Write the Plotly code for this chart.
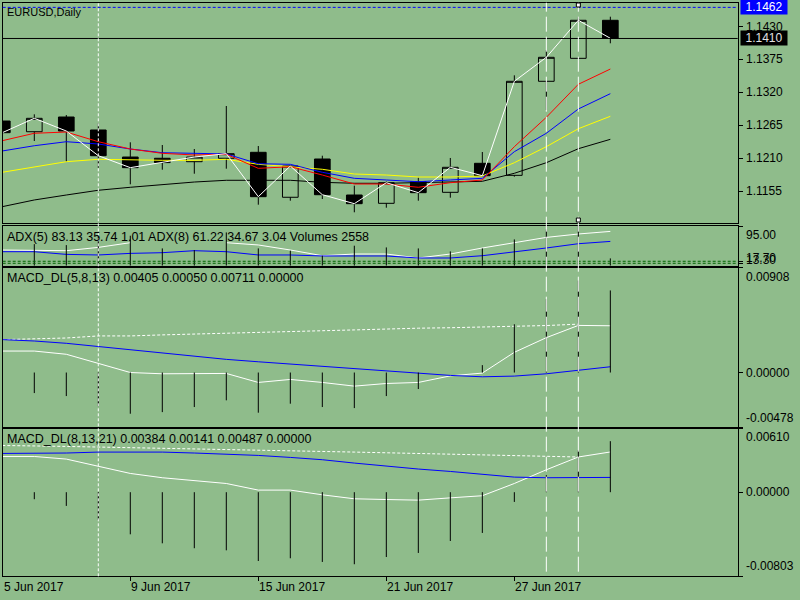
import plotly.graph_objects as go

BG = "#8FBC8B"
FONT = "Liberation Sans"

# ---------------- data ----------------
dates = ["5 Jun 2017", "6 Jun 2017", "7 Jun 2017", "8 Jun 2017", "9 Jun 2017",
         "12 Jun 2017", "13 Jun 2017", "14 Jun 2017", "15 Jun 2017", "16 Jun 2017",
         "19 Jun 2017", "20 Jun 2017", "21 Jun 2017", "22 Jun 2017", "23 Jun 2017",
         "26 Jun 2017", "27 Jun 2017", "28 Jun 2017", "29 Jun 2017", "30 Jun 2017"]
date_ticks = ["5 Jun 2017", "9 Jun 2017", "15 Jun 2017", "21 Jun 2017", "27 Jun 2017"]
separator_day = "8 Jun 2017"
marked_days = ["28 Jun 2017", "29 Jun 2017"]

open_ = [1.12720, 1.12541, 1.12787, 1.12570, 1.12118, 1.12097, 1.12040, 1.12097, 1.12197, 1.11445,
         1.12085, 1.11483, 1.11344, 1.11705, 1.11528, 1.12013, 1.11812, 1.13384, 1.13768, 1.14404]
high = [1.12800, 1.12832, 1.12820, 1.12682, 1.12364, 1.12319, 1.12252, 1.12971, 1.12302, 1.11985,
        1.12140, 1.11639, 1.11709, 1.11772, 1.12102, 1.12202, 1.13484, 1.13907, 1.14454, 1.14464]
low = [1.12400, 1.12386, 1.12040, 1.11940, 1.11662, 1.11906, 1.11839, 1.11923, 1.11321, 1.11388,
       1.11416, 1.11194, 1.11271, 1.11388, 1.11438, 1.11792, 1.11789, 1.12904, 1.13760, 1.14019]
close = [1.12525, 1.12765, 1.12553, 1.12140, 1.11940, 1.12025, 1.12118, 1.12174, 1.11455, 1.11968,
         1.11488, 1.11338, 1.11689, 1.11522, 1.11946, 1.11806, 1.13384, 1.13785, 1.14404, 1.14103]

ma_red = [1.12391, 1.12515, 1.12536, 1.12374, 1.12252, 1.12180, 1.12152, 1.12164, 1.11929, 1.11956,
          1.11817, 1.11667, 1.11667, 1.11612, 1.11689, 1.11734, 1.12291, 1.12782, 1.13334, 1.13589]
ma_blue = [1.12219, 1.12307, 1.12374, 1.12336, 1.12252, 1.12190, 1.12180, 1.12169, 1.12006, 1.11996,
           1.11863, 1.11762, 1.11734, 1.11705, 1.11734, 1.11762, 1.12207, 1.12515, 1.12921, 1.13177]
ma_yellow = [1.11863, 1.11956, 1.12040, 1.12080, 1.12068, 1.12063, 1.12063, 1.12080, 1.11996, 1.11956,
             1.11913, 1.11834, 1.11817, 1.11784, 1.11784, 1.11801, 1.12023, 1.12291, 1.12591, 1.12799]
ma_black = [1.11288, 1.11400, 1.11483, 1.11562, 1.11612, 1.11662, 1.11700, 1.11729, 1.11729, 1.11729,
            1.11695, 1.11679, 1.11679, 1.11689, 1.11700, 1.11712, 1.11846, 1.12023, 1.12257, 1.12414]

price_ticks = [1.1155, 1.1210, 1.1265, 1.1320, 1.1375, 1.1430]
ask_level = 1.1462
bid_level = 1.1410

adx5 = [42.4, 42.4, 40.9, 48.1, 58.4, None, None, 58.4, 53.4, 42.4,
        29.9, 33.6, 33.6, 24.9, 33.6, 46.8, 57.8, 70.0, 77.5, 83.13]
adx8 = [38.7, 38.7, 32.8, 31.5, 35.0, 36.5, 40.9, 38.7, 31.5, 31.5,
        29.3, 29.3, 29.3, 24.9, 24.9, 29.9, 38.0, 46.8, 56.2, 61.22]
volumes = [4500, 7560, 7210, 10500, 10500, 6055, 5460, 11655, 6055, 5250,
           3500, 7000, 6405, 6055, 5005, 6055, 9205, 12705, 15000, 2558]
adx_levels = [17.7, 13.3]
adx_top = 95.0

m1_main = [0.00186, 0.00186, 0.00158, 0.00079, 0.00000, -0.00011, -0.00011, -0.00008, -0.00086, -0.00060,
           -0.00086, -0.00118, -0.00095, -0.00086, -0.00029, -0.00005, 0.00175, 0.00302, 0.00408, 0.00405]
m1_signal = [0.00285, 0.00273, 0.00253, 0.00224, 0.00195, 0.00166, 0.00137, 0.00114, 0.00093, 0.00073,
             0.00050, 0.00030, 0.00010, -0.00008, -0.00025, -0.00037, -0.00031, -0.00011, 0.00018, 0.00050]
m1_hist = [-0.00150, -0.00178, -0.00204, -0.00293, -0.00357, -0.00343, -0.00299, -0.00241, -0.00348, -0.00270,
           -0.00299, -0.00308, -0.00204, -0.00143, 0.00000, 0.00064, 0.00418, 0.00636, 0.00797, 0.00711]
m1_dash = [0.00285, 0.00291, 0.00299, 0.00317, 0.00317, 0.00326, 0.00332, 0.00339, 0.00349, 0.00354,
           0.00362, 0.00369, 0.00378, 0.00384, 0.00388, 0.00393, 0.00398, 0.00407, 0.00419, None]
m1_range = [-0.00478, 0.00908]

m2_main = [0.00341, 0.00341, 0.00316, 0.00250, 0.00179, 0.00138, 0.00112, 0.00083, 0.00020, 0.00020,
           -0.00025, -0.00063, -0.00070, -0.00076, -0.00054, -0.00034, 0.00083, 0.00214, 0.00336, 0.00384]
m2_signal = [0.00370, 0.00370, 0.00374, 0.00383, 0.00383, 0.00383, 0.00374, 0.00364, 0.00351, 0.00332,
             0.00310, 0.00278, 0.00246, 0.00221, 0.00198, 0.00169, 0.00144, 0.00138, 0.00141, 0.00141]
m2_hist = [-0.00030, -0.00067, -0.00131, -0.00268, -0.00402, -0.00488, -0.00535, -0.00555, -0.00657, -0.00631,
           -0.00666, -0.00688, -0.00619, -0.00580, -0.00466, -0.00389, -0.00093, 0.00163, 0.00402, 0.00487]
m2_dash = [0.00446, 0.00444, 0.00437, 0.00431, 0.00424, 0.00418, 0.00412, 0.00405, 0.00402, 0.00396,
           0.00389, 0.00383, 0.00377, 0.00367, 0.00364, 0.00360, 0.00355, 0.00345, 0.00336, None]
m2_range = [-0.00803, 0.00610]

# ---------------- layout geometry ----------------
W, H = 800, 600
X_DOM = [2.7 / W, 737.7 / W]
X_RANGE = [0.0125, 22.98]
PRICE_RANGE = [1.1101, 1.14698]
ADX_RANGE = [8.0, 95.0]
VOL_RANGE = [0, 13900]


def dom(top_px, bot_px):
    return [1 - bot_px / H, 1 - top_px / H]


def x_paper(i):
    return X_DOM[0] + (i - X_RANGE[0]) / (X_RANGE[1] - X_RANGE[0]) * (X_DOM[1] - X_DOM[0])


D_MAIN = dom(2.7, 223.3)
D_ADX = dom(226.0, 265.7)
D_M1 = dom(267.7, 427.7)
D_M2 = dom(428.3, 576.3)

xs = list(range(len(dates)))


def stems(vals):
    sx, sy = [], []
    for x, v in zip(xs, vals):
        sx += [x, x, None]
        sy += [0, v, None]
    return sx, sy


def line(y, color, xa, ya, dash=None, width=1):
    return go.Scatter(x=xs, y=y, mode="lines", xaxis=xa, yaxis=ya,
                      line=dict(color=color, width=width, dash=dash),
                      connectgaps=False, showlegend=False, hoverinfo="skip")


fig = go.Figure()

# main price panel
fig.add_trace(go.Candlestick(
    x=xs, open=open_, high=high, low=low, close=close, xaxis="x", yaxis="y",
    increasing=dict(line=dict(color="black", width=1), fillcolor="rgba(0,0,0,0)"),
    decreasing=dict(line=dict(color="black", width=1), fillcolor="black"),
    whiskerwidth=0, showlegend=False, hoverinfo="skip"))
fig.add_trace(line(ma_black, "black", "x", "y"))
fig.add_trace(line(ma_yellow, "#FFFF00", "x", "y"))
fig.add_trace(line(ma_blue, "#0000FF", "x", "y"))
fig.add_trace(line(ma_red, "#FF0000", "x", "y"))
fig.add_trace(line(close, "white", "x", "y"))

# ADX panel
fig.add_trace(line(adx5, "white", "x2", "y2"))
fig.add_trace(line(adx8, "#0000FF", "x2", "y2"))
vx, vy = stems(volumes)
fig.add_trace(go.Scatter(x=vx, y=vy, mode="lines", xaxis="x2", yaxis="y5",
                         line=dict(color="black", width=1), showlegend=False, hoverinfo="skip"))

# MACD 1
fig.add_trace(line(m1_dash, "white", "x3", "y3", dash="3px,2px"))
fig.add_trace(line(m1_main, "white", "x3", "y3"))
fig.add_trace(line(m1_signal, "#0000FF", "x3", "y3"))
hx, hy = stems(m1_hist)
fig.add_trace(go.Scatter(x=hx, y=hy, mode="lines", xaxis="x3", yaxis="y3",
                         line=dict(color="black", width=1), showlegend=False, hoverinfo="skip"))

# MACD 2
fig.add_trace(line(m2_dash, "white", "x4", "y4", dash="3px,2px"))
fig.add_trace(line(m2_main, "white", "x4", "y4"))
fig.add_trace(line(m2_signal, "#0000FF", "x4", "y4"))
hx, hy = stems(m2_hist)
fig.add_trace(go.Scatter(x=hx, y=hy, mode="lines", xaxis="x4", yaxis="y4",
                         line=dict(color="black", width=1), showlegend=False, hoverinfo="skip"))

xax = dict(range=X_RANGE, domain=X_DOM, showgrid=False, zeroline=False, showline=True,
           mirror=True, linecolor="black", linewidth=1, showticklabels=False, ticks="",
           fixedrange=True)
yax = dict(side="right", showgrid=False, zeroline=False, showline=True, mirror=True,
           linecolor="black", linewidth=1, ticks="outside", ticklen=4, tickcolor="black",
           showticklabels=False, fixedrange=True)

tick_idx = [dates.index(d) for d in date_ticks]

fig.update_layout(
    width=W, height=H, margin=dict(l=0, r=0, t=0, b=0),
    paper_bgcolor=BG, plot_bgcolor=BG, hovermode=False, showlegend=False,
    font=dict(family=FONT, size=12, color="black"),
    xaxis=dict(xax, anchor="y", rangeslider=dict(visible=False)),
    xaxis2=dict(xax, anchor="y2", matches="x"),
    xaxis3=dict(xax, anchor="y3", matches="x"),
    xaxis4=dict(xax, anchor="y4", matches="x", ticks="outside", ticklen=4,
                tickcolor="black", tickvals=tick_idx),
    yaxis=dict(yax, domain=D_MAIN, range=PRICE_RANGE, anchor="x", tickvals=price_ticks),
    yaxis2=dict(yax, domain=D_ADX, range=ADX_RANGE, anchor="x2", tickvals=[adx_top] + adx_levels),
    yaxis5=dict(domain=D_ADX, range=VOL_RANGE, overlaying="y2", visible=False, anchor="x2",
                fixedrange=True),
    yaxis3=dict(yax, domain=D_M1, range=m1_range, anchor="x3", tickvals=[m1_range[1], 0, m1_range[0]]),
    yaxis4=dict(yax, domain=D_M2, range=m2_range, anchor="x4", tickvals=[m2_range[1], 0, m2_range[0]]),
)

shapes = []
# horizontal price lines
shapes.append(dict(type="line", xref="x domain", x0=0, x1=1, yref="y", y0=ask_level, y1=ask_level,
                   line=dict(color="#0000FF", width=1, dash="3px,2px")))
shapes.append(dict(type="line", xref="x domain", x0=0, x1=1, yref="y", y0=bid_level, y1=bid_level,
                   line=dict(color="black", width=1)))
# ADX levels
for lv in adx_levels:
    shapes.append(dict(type="line", xref="x2 domain", x0=0, x1=1, yref="y2", y0=lv, y1=lv,
                       line=dict(color="#006400", width=1, dash="3px,2px")))
# vertical separators
si = dates.index(separator_day)
shapes.append(dict(type="line", xref="x", x0=si, x1=si, yref="paper", y0=D_M2[0], y1=D_MAIN[1],
                   line=dict(color="white", width=1, dash="3px,2px")))
for d in marked_days:
    mi = dates.index(d)
    shapes.append(dict(type="line", xref="x", x0=mi, x1=mi, yref="paper",
                       y0=1 - 571.7 / H, y1=D_MAIN[1],
                       line=dict(color="white", width=1, dash="15px,5px")))
# selection handles on the last marked line
mi = dates.index(marked_days[-1])
for ypx in (5, 220):
    yp = 1 - ypx / H
    shapes.append(dict(type="rect", xref="x", xsizemode="pixel", xanchor=mi, x0=-2, x1=2,
                       yref="paper", ysizemode="pixel", yanchor=yp, y0=-2, y1=2,
                       line=dict(color="black", width=1), fillcolor="white"))
fig.update_layout(shapes=shapes)

ann = []
LBL_X = 745 / W


def ylab(text, yref, y, anchor="middle", **kw):
    d = dict(text=text, xref="paper", x=LBL_X, xanchor="left", yref=yref, y=y, yanchor=anchor,
             showarrow=False, font=dict(family=FONT, size=12, color="black"), borderpad=0)
    d.update(kw)
    return d


for t in price_ticks:
    ann.append(ylab(f"{t:.4f}", "y", t))
ann.append(dict(text=f"{ask_level:.4f}", xref="paper", x=740 / W, xanchor="left", yref="y",
                y=ask_level, yanchor="middle", showarrow=False, bgcolor="#0000FF",
                font=dict(family=FONT, size=12, color="white"), width=46, height=14, borderpad=0))
ann.append(dict(text=f"{bid_level:.4f}", xref="paper", x=740 / W, xanchor="left", yref="y",
                y=bid_level, yanchor="middle", showarrow=False, bgcolor="black",
                font=dict(family=FONT, size=12, color="#E0E0E0"), width=46, height=14, borderpad=0))

ann.append(ylab(f"{adx_top:.2f}", "y2", adx_top, "top", yshift=-1))
for lv in adx_levels:
    ann.append(ylab(f"{lv:.2f}", "y2", lv, "middle", yshift=3))

ann.append(ylab(f"{m1_range[1]:.5f}", "y3", m1_range[1], "top", yshift=-1))
ann.append(ylab(f"{0:.5f}", "y3", 0, "middle"))
ann.append(ylab(f"{m1_range[0]:.5f}", "y3", m1_range[0], "bottom", yshift=2))
ann.append(ylab(f"{m2_range[1]:.5f}", "y4", m2_range[1], "top", yshift=-1))
ann.append(ylab(f"{0:.5f}", "y4", 0, "middle"))
ann.append(ylab(f"{m2_range[0]:.5f}", "y4", m2_range[0], "bottom", yshift=2))

for i, d in zip(tick_idx, date_ticks):
    ann.append(dict(text=d, xref="paper", x=max(x_paper(i), 2.7 / W), xanchor="left",
                    yref="paper", y=1 - 587 / H,
                    yanchor="middle", showarrow=False, font=dict(family=FONT, size=12, color="black"),
                    borderpad=0))


def title(text, ypx, size=12.5):
    return dict(text=text, xref="paper", x=5.5 / W, xanchor="left", yref="paper", y=1 - ypx / H,
                yanchor="middle", showarrow=False, font=dict(family=FONT, size=size, color="black"),
                borderpad=0)


ann.append(title("EURUSD,Daily", 12, 11))
ann.append(title(f"ADX(5) {adx5[-1]:.2f} 35.74 1.01 ADX(8) {adx8[-1]:.2f} 34.67 3.04 Volumes {volumes[-1]}", 237))
ann.append(title(f"MACD_DL(5,8,13) {m1_main[-1]:.5f} {m1_signal[-1]:.5f} {m1_hist[-1]:.5f} 0.00000", 278.3))
ann.append(title(f"MACD_DL(8,13,21) {m2_main[-1]:.5f} {m2_signal[-1]:.5f} {m2_hist[-1]:.5f} 0.00000", 439.3))

fig.update_layout(annotations=ann)

fig.write_html("out.html", config={"displayModeBar": False},
               post_script="document.body.style.margin='0';document.body.style.overflow='hidden';")
